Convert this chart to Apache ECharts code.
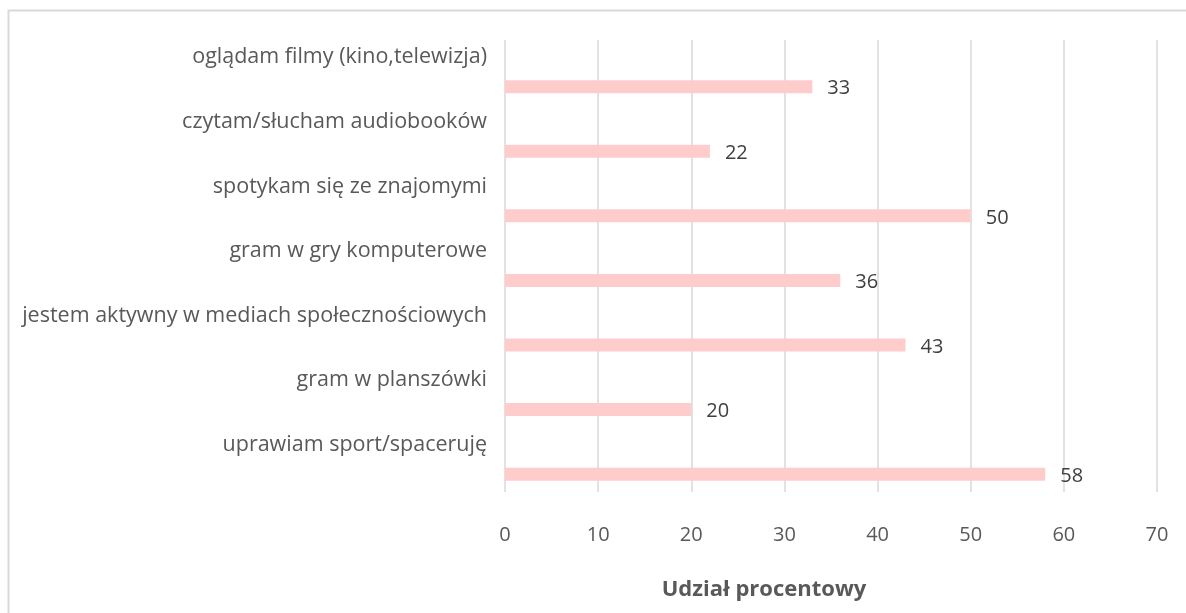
<!DOCTYPE html>
<html><head><meta charset="utf-8">
<script src="https://cdn.jsdelivr.net/npm/echarts@6/dist/echarts.min.js"></script>
<style>html,body{margin:0;padding:0;background:#fff}#c{width:1186px;height:613px}</style>
</head><body><div id="c"></div>
<script>
const categories = ['uprawiam sport/spaceruję','gram w planszówki','jestem aktywny w mediach społecznościowych','gram w gry komputerowe','spotykam się ze znajomymi','czytam/słucham audiobooków','oglądam filmy (kino,telewizja)'];
const values = [58, 20, 43, 36, 50, 22, 33];
const axisTitle = 'Udział procentowy';
const FONT = '"Open Sans", sans-serif';
const chart = echarts.init(document.getElementById('c'));
chart.setOption({
  animation: false,
  backgroundColor: '#fff',
  textStyle: {fontFamily: FONT},
  grid: {left: 505, right: 29, top: 40, bottom: 121},
  graphic: [{type: 'rect', shape: {x: 8.5, y: 10.5, width: 1300, height: 800}, style: {fill: 'none', stroke: '#d9d9d9', lineWidth: 2}, silent: true, z: -1}],
  xAxis: {
    type: 'value', min: 0, max: 70, interval: 10,
    axisLine: {show: false}, axisTick: {show: false},
    splitLine: {lineStyle: {color: '#d9d9d9', width: 1.5}},
    axisLabel: {color: '#595959', fontSize: 20, margin: 33, fontFamily: FONT},
    name: axisTitle, nameLocation: 'middle', nameGap: 87,
    nameTextStyle: {color: '#595959', fontSize: 22, fontWeight: 'bold', fontFamily: FONT, padding: [0, 134, 0, 0]}
  },
  yAxis: {
    type: 'category', data: categories,
    axisLine: {show: false}, axisTick: {show: false}, splitLine: {show: false},
    axisLabel: {color: '#595959', fontSize: 21.5, margin: 18, verticalAlign: 'bottom', lineHeight: 30, fontFamily: FONT}
  },
  series: [
    {type: 'bar', data: values.map(() => null), barWidth: 13, silent: true},
    {type: 'bar', data: values, barWidth: 13, barGap: '122%',
     itemStyle: {color: '#ffcccc'},
     label: {show: true, position: 'right', distance: 15, color: '#404040', fontSize: 20, fontFamily: FONT, offset: [0, 2]}}
  ]
});
</script></body></html>
